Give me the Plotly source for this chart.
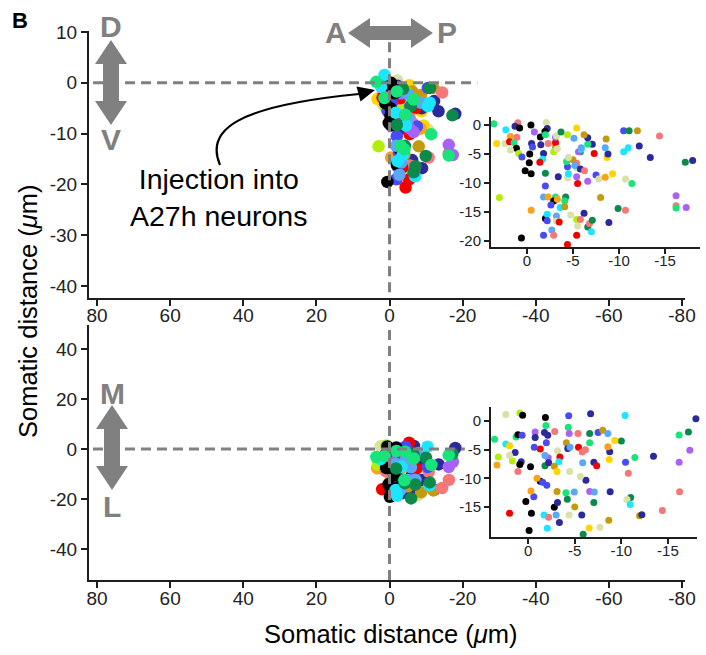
import plotly.graph_objects as go

# ---------------- data ----------------
# Top panel: anterior-posterior (AP) vs dorsal-ventral (DV) somatic distance (um)
top_ap = [1.36, 3.6, 1.0, 1.3, 0.8, -0.43, -2.1, -2.2, 2.3, -0.8, -1.95, -1.45, 1.8, 2.4, 3.3, 1.9, 1.4, 1.1,
          1.15, 1.8, 0.9, 0.55, -0.3, -0.5, -0.6, -1.5, -2.0, -2.3, -3.1, -3.1, -2.9, -3.3, -3.1, -3.2, -1.8,
          -1.7, -1.4, -0.25, 0.2, -0.45, -2.0, -3.4, -2.0, 3.0, -1.8, -2.3, -3.1, -2.9, -3.3, -2.6, -3.6, -0.45,
          -2.0, -2.2, -3.2, -2.2, -3.2, -3.5, -2.7, -1.8, -2.9, 0.6, -4.4, -4.2, -4.1, -4.1, -4.75, -5.4, -5.8,
          -5.4, -5.5, -6.6, -6.8, -7.1, -7.0, -6.2, -8.9, -9.9, -10.7, -8.0, -5.5, -5.4, -6.6, -4.4, -4.5, -4.4,
          -5.4, -5.4, -5.0, -5.2, -5.8, -6.25, -7.5, -7.8, -8.5, -9.3, -10.7, -11.4, -4.3, -4.5, -5.8, -5.6,
          -5.9, -5.9, -7.3, -8.7, -8.8, -8.5, -8.6, -7.1, -6.6, -6.6, -6.2, -5.1, -5.4, -3.7, -4.4, -10.5,
          -11.0, -10.5, -11.1, -12.0, -14.4, -12.2, -13.4, -17.2, -18.0, -16.2, -16.2, -16.2, -17.3]
top_dv = [1.55, 0.2, 0.4, -0.2, -0.5, 0.0, 0.45, -0.6, -0.8, -1.2, -1.1, -2.05, -2.0, -3.2, -3.2, -2.9, -3.0, -2.1,
          -4.0, -4.3, -4.9, -5.5, -5.0, -3.2, -3.8, -3.4, -1.7, -3.2, -3.7, -3.0, -4.6, -4.1, -2.1, -1.9, -4.9,
          -5.9, -6.4, -6.5, -7.9, -8.4, -8.3, -8.9, -10.5, -12.5, -12.4, -12.4, -12.4, -13.1, -12.8, -13.8, -14.2,
          -14.7, -16.1, -15.4, -15.7, -16.5, -16.6, -16.7, -18.1, -19.0, -19.0, -19.5, -20.6, -12.4, -13.1, -14.1,
          -15.5, -16.3, -16.3, -19.0, -17.4, -17.6, -17.0, -16.4, -18.4, -15.2, -16.8, -14.4, -14.7, -12.5, -10.1,
          -8.9, -9.7, -9.1, -8.4, -7.2, -7.4, -6.6, -6.0, -7.0, -7.6, -7.9, -8.6, -9.3, -9.0, -8.4, -9.3, -10.1,
          -6.3, -5.6, -4.6, -4.6, -4.2, -3.9, -4.9, -5.6, -5.0, -3.9, -2.4, -3.3, -3.3, -2.2, -1.7, -2.3, -0.5,
          -1.2, -1.7, -4.6, -3.9, -1.0, -1.0, -1.0, -1.9, -3.6, -5.6, -6.4, -6.1, -12.2, -13.9, -14.3, -14.2]
top_id = ["cyan", "spring", "salmon", "navy", "black", "black", "pale", "navy", "cyan", "purple", "black", "black",
          "orange", "pale", "yellow", "red", "spring", "salmon", "black", "pale", "lime", "blue", "black", "navy",
          "blue", "navy", "spring", "salmon", "olive", "red", "lime", "pale", "purple", "pale", "navy", "cyan",
          "red", "black", "black", "black", "darkgreen", "navy", "blue", "lime", "lightblue", "orange", "spring",
          "black", "orange", "blue", "cyan", "orange", "black", "cyan", "lightblue", "blue", "pale", "red",
          "lightblue", "blue", "salmon", "black", "red", "darkgreen", "spring", "olive", "pale", "lime", "salmon",
          "red", "pale", "darkgreen", "salmon", "darkgreen", "cyan", "navy", "navy", "darkgreen", "salmon", "olive",
          "red", "purple", "purple", "pale", "cyan", "blue", "pale", "salmon", "olive", "lightblue", "navy",
          "salmon", "blue", "pale", "orange", "yellow", "pale", "spring", "spring", "pale", "darkgreen", "purple",
          "cyan", "lightblue", "red", "yellow", "navy", "lightblue", "olive", "navy", "spring", "navy", "olive",
          "lightblue", "yellow", "darkgreen", "lime", "cyan", "cyan", "blue", "darkgreen", "olive", "salmon",
          "navy", "navy", "darkgreen", "navy", "purple", "salmon", "spring", "purple"]

# Bottom panel: anterior-posterior (AP) vs medial-lateral (ML) somatic distance (um)
bot_ap = [2.4, 0.9, 0.6, -1.85, -5.35, -4.35, -6.7, -10.4, -18.0, -1.9, -4.3, -2.85, -0.75, -1.75, 3.6, 1.3, 1.1,
          0.65, -4.4, -5.35, -6.6, -7.5, -8.0, -8.55, -10.0, -9.3, -2.1, -1.95, -0.75, 2.4, 2.0, 1.4, 0.75, 1.7,
          2.0, 3.2, 3.35, 1.1, 0.9, -0.25, -1.3, -0.65, -5.4, -5.8, -6.15, -6.6, -4.1, -4.25, -4.5, -2.15, -1.8,
          -1.8, -2.2, -3.15, -3.4, -3.3, -2.8, -3.1, -1.3, -0.95, -1.55, -2.0, -0.6, -0.3, 0.25, -0.35, -0.1, 2.0,
          -1.7, -2.2, -2.05, -2.8, -3.0, -3.35, -3.15, -4.2, -5.0, -3.1, -4.05, -4.95, -6.2, -4.45, -5.6, -5.85,
          -7.05, -7.35, -6.6, -7.1, -7.05, -5.75, -4.4, -6.55, -7.7, -5.9, -8.75, -8.55, -8.7, -8.8, -8.65, -10.45,
          -11.45, -10.75, -13.45, -11.0, -10.6, -10.95, -11.95, -12.2, -14.4, -16.25, -16.2, -16.2, -17.2, -17.35]
bot_ml = [1.15, 1.4, 1.0, 0.6, 2.5, 0.9, 1.25, 0.95, 0.4, -0.8, -1.1, -1.85, -1.9, -2.0, -3.2, -2.8, -2.4, -2.5,
          -2.2, -2.2, -2.2, -2.0, -1.6, -2.2, -3.5, -3.4, -2.5, -3.8, -2.9, -4.0, -4.3, -5.5, -7.1, -7.0, -6.0, -6.3,
          -7.7, -8.8, -7.6, -8.0, -4.9, -4.6, -4.6, -5.4, -5.0, -3.8, -3.8, -4.8, -4.6, -6.4, -6.0, -7.8, -7.3,
          -5.2, -6.3, -7.1, -7.9, -8.8, -10.5, -10.0, -10.7, -11.2, -13.2, -12.2, -14.05, -16.1, -19.1, -16.1,
          -16.4, -16.8, -18.7, -15.05, -16.4, -17.7, -14.2, -13.65, -15.0, -12.3, -12.5, -12.4, -10.35, -8.8, -9.7,
          -7.3, -7.2, -7.8, -12.3, -12.4, -14.2, -16.4, -16.4, -18.65, -18.55, -19.75, -5.35, -4.5, -6.7, -12.35,
          -17.3, -7.2, -6.35, -9.1, -6.15, -13.35, -13.7, -14.55, -16.55, -16.35, -15.6, -12.35, -7.2, -2.45, -1.9,
          -5.1]
bot_id = ["pale", "lime", "black", "black", "red", "blue", "navy", "cyan", "navy", "spring", "spring", "salmon",
          "purple", "navy", "spring", "spring", "black", "blue", "purple", "salmon", "darkgreen", "blue", "olive",
          "lightblue", "darkgreen", "yellow", "navy", "blue", "navy", "cyan", "yellow", "navy", "navy", "lime",
          "pale", "lime", "orange", "salmon", "black", "black", "red", "blue", "red", "salmon", "salmon", "spring",
          "olive", "navy", "lightblue", "purple", "lightblue", "darkgreen", "navy", "pale", "red", "cyan", "olive",
          "yellow", "black", "orange", "blue", "blue", "blue", "orange", "black", "black", "black", "red", "cyan",
          "salmon", "cyan", "black", "lightblue", "navy", "navy", "darkgreen", "olive", "olive", "spring",
          "lightblue", "navy", "pale", "pale", "lightblue", "navy", "red", "purple", "lightblue", "darkgreen",
          "navy", "pale", "yellow", "pale", "darkgreen", "navy", "orange", "yellow", "navy", "olive", "blue",
          "spring", "salmon", "navy", "darkgreen", "pale", "cyan", "olive", "navy", "salmon", "salmon", "purple",
          "spring", "darkgreen", "purple"]

main_ticks = [80, 60, 40, 20, 0, -20, -40, -60, -80]
top_yticks = [10, 0, -10, -20, -30, -40]
bot_yticks = [40, 20, 0, -20, -40]
inset_xticks = [0, -5, -10, -15]
top_inset_yticks = [0, -5, -10, -15, -20]
bot_inset_yticks = [0, -5, -10, -15]

# ---------------- styles ----------------
palette = {
    "black": "#000000", "red": "#f20000", "salmon": "#f47878", "orange": "#f9a21a", "olive": "#c49a10",
    "yellow": "#ffd400", "pale": "#d9e1a8", "lime": "#b2ee0a", "spring": "#17e57c", "darkgreen": "#0b8a4c",
    "cyan": "#1ce6ff", "lightblue": "#5aa8f7", "blue": "#4a4af2", "navy": "#2c2a9a", "purple": "#a862f7",
}
# drawing order of the colour groups in the big (overlapping) panels
draw_rank = ["pale", "yellow", "orange", "navy", "olive", "lime", "salmon", "red", "blue", "purple", "black",
             "lightblue", "cyan", "darkgreen", "spring"]
W, H = 706, 655
FONT = "Liberation Sans, Arial, sans-serif"
GRAY = "#808080"
AX = "#1e1e1e"


def px(x):
    return x / W


def py(y):
    return 1 - y / H


fig = go.Figure()


def add_pts(xs, ys, ids, xa, ya, size, ordered=False):
    idx = list(range(len(xs)))
    if ordered:
        idx.sort(key=lambda i: draw_rank.index(ids[i]))
    fig.add_trace(go.Scatter(
        x=[xs[i] for i in idx], y=[ys[i] for i in idx], mode="markers", xaxis=xa, yaxis=ya,
        showlegend=False, cliponaxis=False,
        marker=dict(size=size, color=[palette[ids[i]] for i in idx], line=dict(width=0)),
        hoverinfo="skip"))


add_pts(top_ap, top_dv, top_id, "x", "y", 12.5, True)
add_pts(bot_ap, bot_ml, bot_id, "x3", "y3", 12.5, True)
add_pts(top_ap, top_dv, top_id, "x2", "y2", 7)
add_pts(bot_ap, bot_ml, bot_id, "x4", "y4", 7)


def axis(domain, rng, ticks, size, anchor, ticklen=6, standoff=0):
    return dict(domain=domain, range=rng, tickvals=ticks, ticktext=[str(t) for t in ticks],
                showline=True, linecolor=AX, linewidth=2, ticks="outside", ticklen=ticklen,
                tickwidth=2, tickcolor=AX, showgrid=False, zeroline=False, anchor=anchor, automargin=False,
                ticklabelstandoff=standoff,
                tickfont=dict(family=FONT, size=size, color="#222222"), fixedrange=True)


main_xd = [px(89), px(685)]
main_xr = [82.19, -80.82]
fig.update_layout(
    template="none",
    width=W, height=H, margin=dict(l=0, r=0, t=0, b=0, pad=0), autosize=False,
    paper_bgcolor="white", plot_bgcolor="rgba(0,0,0,0)",
    xaxis=axis(main_xd, main_xr, main_ticks, 19, "y", standoff=-7),
    yaxis=axis([py(298), py(31)], [-42.35, 10.2], top_yticks, 19, "x"),
    xaxis3=axis(main_xd, main_xr, main_ticks, 19, "y3", standoff=-6),
    yaxis3=axis([py(580), py(325)], [-52.4, 49.6], bot_yticks, 19, "x3"),
    xaxis2=axis([px(491), px(700)], [3.91, -18.8], inset_xticks, 15, "y2", 5, standoff=-6),
    yaxis2=axis([py(247), py(117)], [-21.03, 1.38], top_inset_yticks, 15, "x2", 5),
    xaxis4=axis([px(491), px(697)], [3.99, -18.12], inset_xticks, 15, "y4", 5, standoff=-6),
    yaxis4=axis([py(537), py(407)], [-20.24, 2.44], bot_inset_yticks, 15, "x4", 5),
)

shapes = []
dash = dict(color=GRAY, width=3, dash="10px,6px")
shapes.append(dict(type="line", xref="x", yref="y", x0=81.1, x1=-24.0, y0=0, y1=0, line=dash, layer="above"))
shapes.append(dict(type="line", xref="x", yref="y", x0=0, x1=0, y0=8, y1=-42.35, line=dash, layer="above"))
shapes.append(dict(type="line", xref="x3", yref="y3", x0=81.1, x1=-20.6, y0=0, y1=0, line=dash, layer="above"))
shapes.append(dict(type="line", xref="x3", yref="y3", x0=0, x1=0, y0=47.6, y1=-52.4, line=dash, layer="above"))


def poly(points):
    return "M " + " L ".join(f"{px(a):.5f},{py(b):.5f}" for a, b in points) + " Z"


def v_arrow(cx, y1, y2, hl=24, hw=16, sw=8):
    return poly([(cx, y1), (cx + hw, y1 + hl), (cx + sw, y1 + hl), (cx + sw, y2 - hl), (cx + hw, y2 - hl),
                 (cx, y2), (cx - hw, y2 - hl), (cx - sw, y2 - hl), (cx - sw, y1 + hl), (cx - hw, y1 + hl)])


def h_arrow(cy, x1, x2, hl=22, hw=15, sw=7):
    return poly([(x1, cy), (x1 + hl, cy - hw), (x1 + hl, cy - sw), (x2 - hl, cy - sw), (x2 - hl, cy - hw),
                 (x2, cy), (x2 - hl, cy + hw), (x2 - hl, cy + sw), (x1 + hl, cy + sw), (x1 + hl, cy + hw)])


for pth in (v_arrow(111, 40, 125), v_arrow(112, 405, 490), h_arrow(33, 348, 433)):
    shapes.append(dict(type="path", xref="paper", yref="paper", path=pth, fillcolor=GRAY,
                       line=dict(width=0), layer="above"))

# curved pointer arrow
curve = (f"M {px(220):.5f},{py(165):.5f} C {px(205):.5f},{py(130):.5f} "
         f"{px(236):.5f},{py(106):.5f} {px(359):.5f},{py(94):.5f}")
shapes.append(dict(type="path", xref="paper", yref="paper", path=curve, line=dict(color="black", width=2.2),
                   layer="above"))
shapes.append(dict(type="path", xref="paper", yref="paper",
                   path=poly([(375, 90), (356.5, 86.5), (360.5, 101.5)]), fillcolor="black",
                   line=dict(width=0), layer="above"))
fig.update_layout(shapes=shapes)

ann = []


def text(x, y, s, size, color="black", bold=False, angle=0):
    ann.append(dict(x=px(x), y=py(y), xref="paper", yref="paper", text=f"<b>{s}</b>" if bold else s,
                    showarrow=False, xanchor="center", yanchor="middle", textangle=angle,
                    font=dict(family=FONT, size=size, color=color)))


text(20, 20, "B", 22, bold=True)
text(111, 26, "D", 30, GRAY, True)
text(111, 139, "V", 30, GRAY, True)
text(112, 393, "M", 30, GRAY, True)
text(112, 506, "L", 30, GRAY, True)
text(336, 33, "A", 30, GRAY, True)
text(447, 33, "P", 30, GRAY, True)
text(218, 198, "Injection into<br>A27h neurons", 28.5)
text(390, 634, "Somatic distance (<i>μ</i>m)", 25.5)
text(28, 312, "Somatic distance (<i>μ</i>m)", 25.5, angle=-90)
fig.update_layout(annotations=ann)

fig.write_html("out.html", config={"displayModeBar": False},
               post_script="document.body.style.margin='0px';document.body.style.overflow='hidden';")
